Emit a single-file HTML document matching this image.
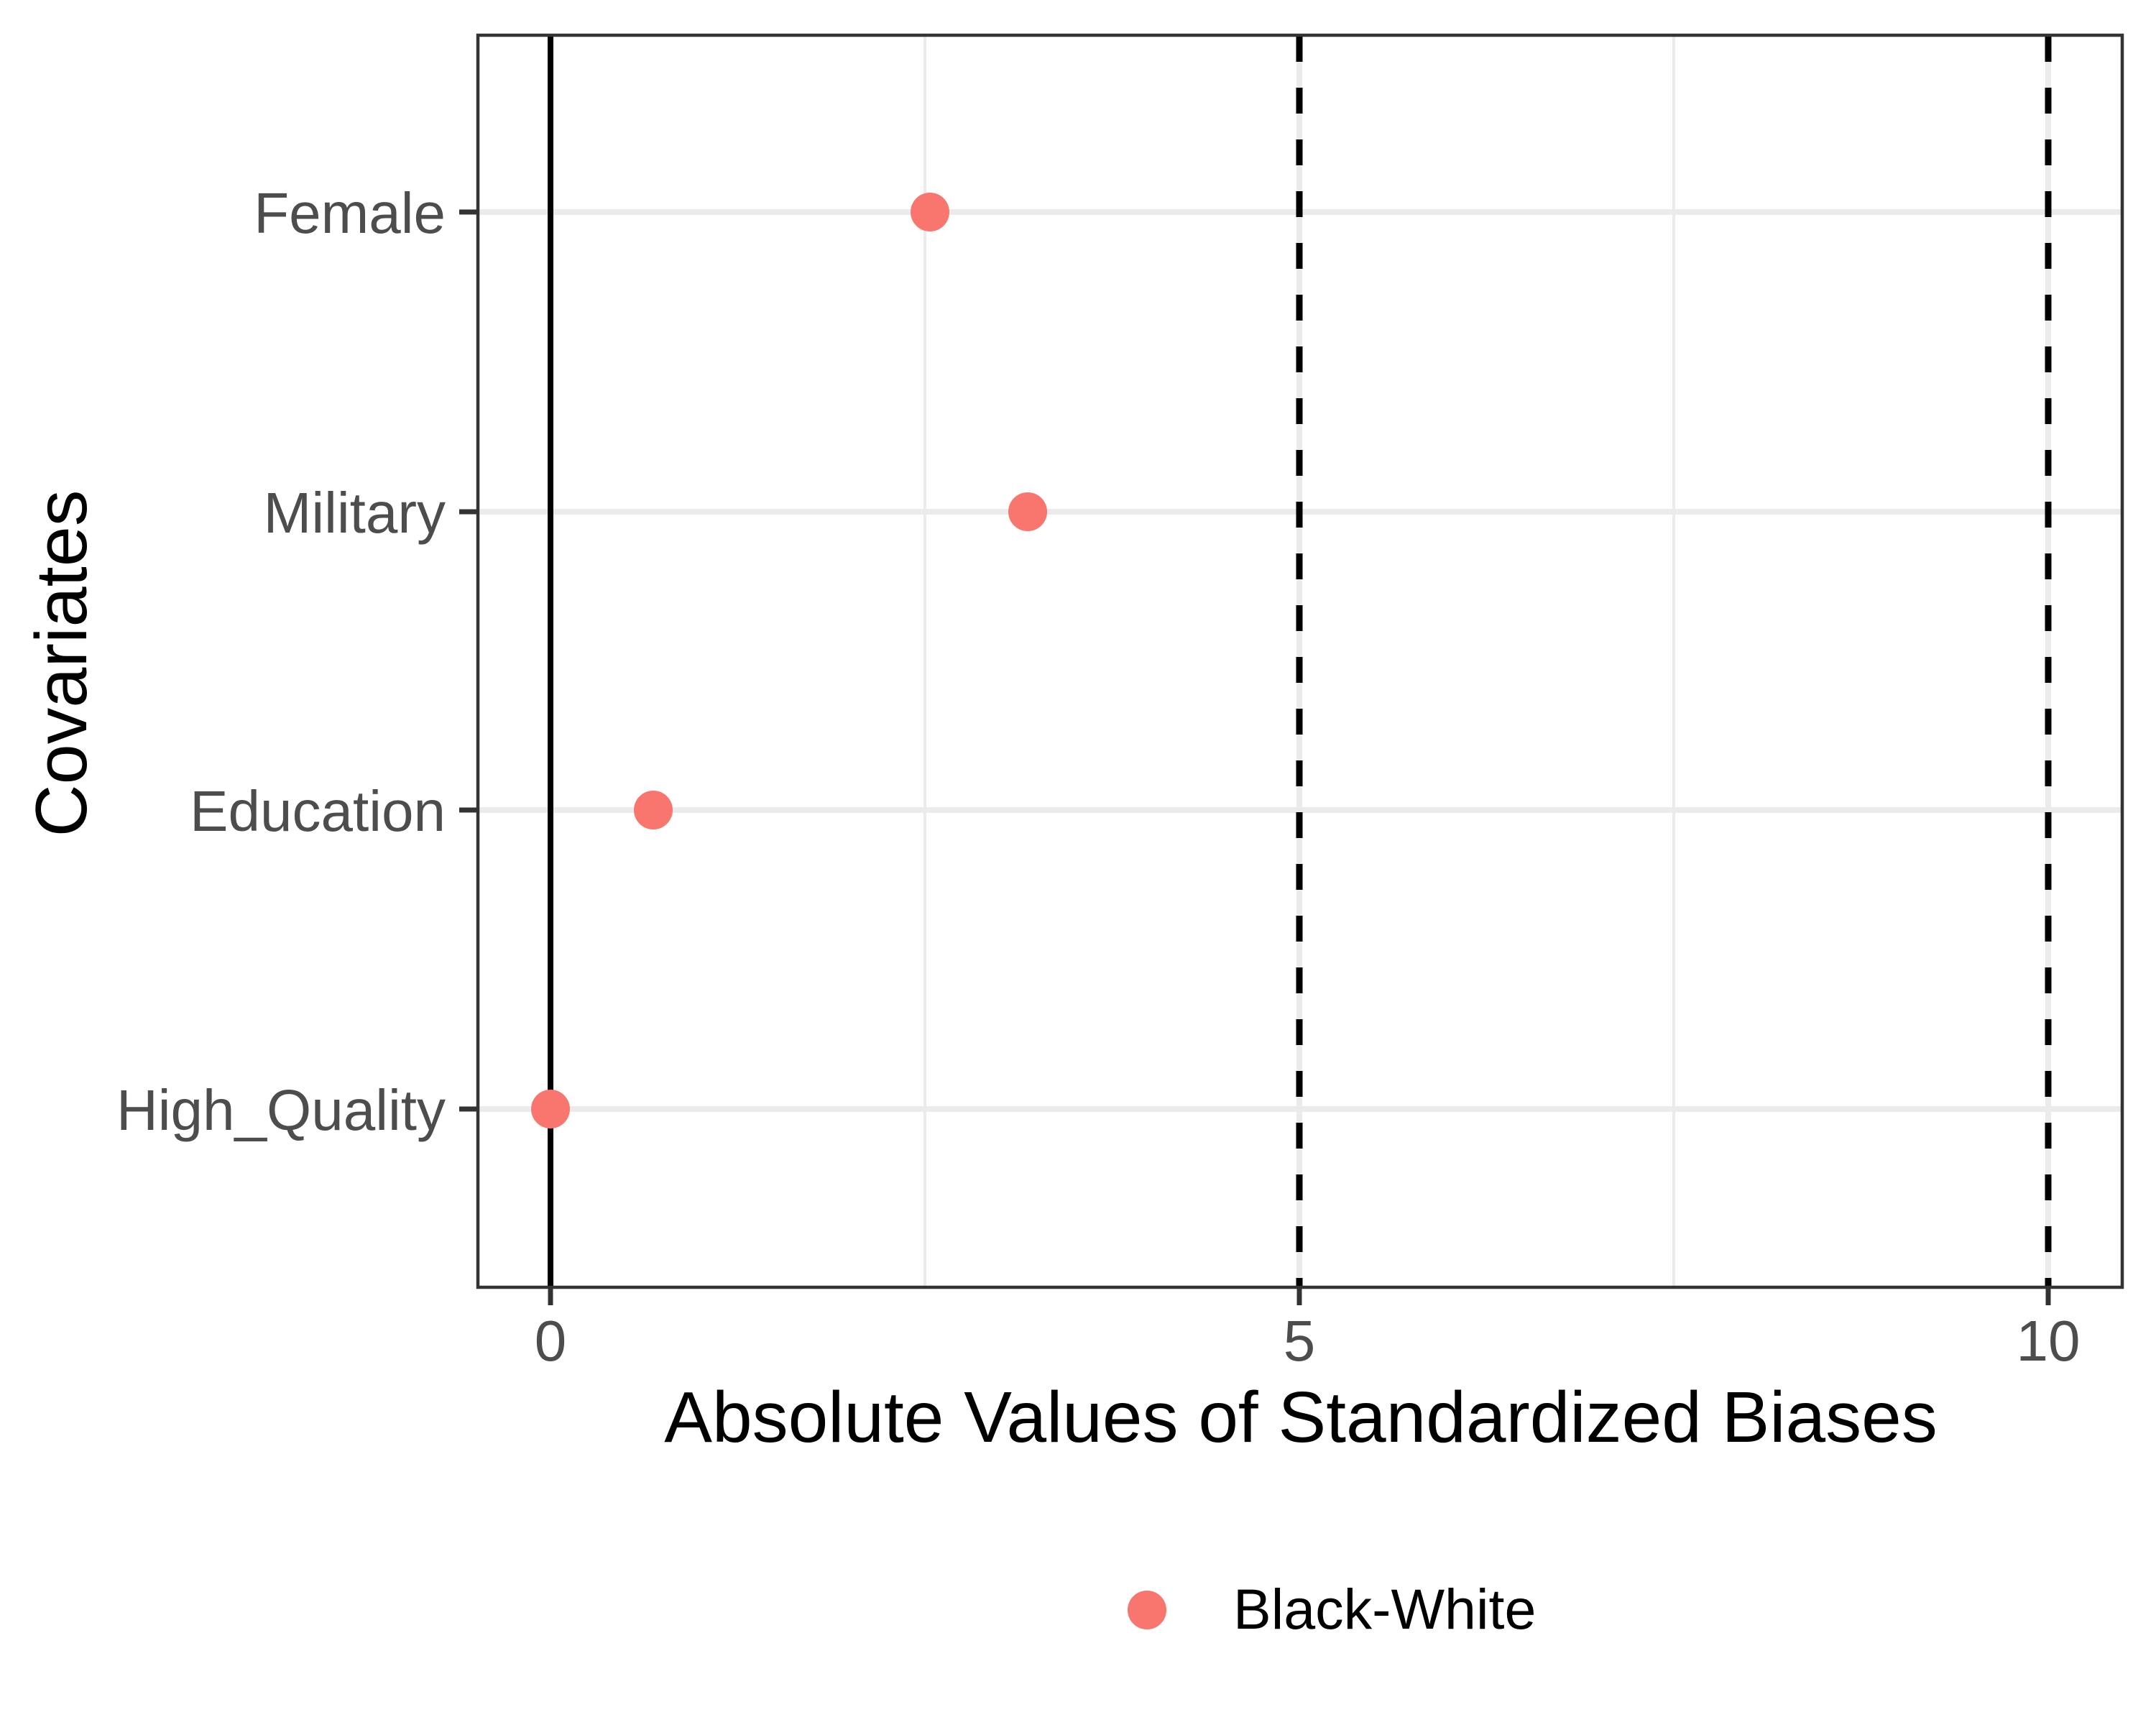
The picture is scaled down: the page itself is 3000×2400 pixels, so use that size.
<!DOCTYPE html>
<html><head><meta charset="utf-8"><style>
html,body{margin:0;padding:0;background:#fff;}
svg{display:block;}
</style></head><body>
<svg width="3000" height="2400" viewBox="0 0 3000 2400" xmlns="http://www.w3.org/2000/svg" font-family="Liberation Sans, Arial, sans-serif">
<rect width="3000" height="2400" fill="#fff"/>
<g stroke="#ebebeb" stroke-width="4">
<line x1="1287" y1="48" x2="1287" y2="1792"/>
<line x1="2329" y1="48" x2="2329" y2="1792"/>
</g>
<g stroke="#ebebeb" stroke-width="8">
<line x1="766" y1="48" x2="766" y2="1792"/>
<line x1="1808" y1="48" x2="1808" y2="1792"/>
<line x1="2850" y1="48" x2="2850" y2="1792"/>
<line x1="663" y1="295" x2="2953" y2="295"/>
<line x1="663" y1="712" x2="2953" y2="712"/>
<line x1="663" y1="1127" x2="2953" y2="1127"/>
<line x1="663" y1="1543" x2="2953" y2="1543"/>
</g>
<line x1="766" y1="48" x2="766" y2="1792" stroke="#000" stroke-width="8"/>
<g stroke="#000" stroke-width="9" stroke-dasharray="36,36">
<line x1="1808" y1="50" x2="1808" y2="1792"/>
<line x1="2850" y1="50" x2="2850" y2="1792"/>
</g>
<g fill="#F8766D">
<circle cx="1294" cy="295" r="27"/>
<circle cx="1430" cy="712" r="27"/>
<circle cx="909" cy="1127" r="27"/>
<circle cx="766" cy="1543" r="27"/>
</g>
<rect x="665" y="49" width="2288" height="1742" fill="none" stroke="#333" stroke-width="4.5"/>
<g stroke="#333" stroke-width="7">
<line x1="639" y1="295" x2="663" y2="295"/>
<line x1="639" y1="712" x2="663" y2="712"/>
<line x1="639" y1="1127" x2="663" y2="1127"/>
<line x1="639" y1="1543" x2="663" y2="1543"/>
<line x1="766" y1="1792" x2="766" y2="1816"/>
<line x1="1808" y1="1792" x2="1808" y2="1816"/>
<line x1="2850" y1="1792" x2="2850" y2="1816"/>
</g>
<g fill="#4d4d4d" font-size="80" text-anchor="end">
<text x="620" y="324">Female</text>
<text x="620" y="741">Military</text>
<text x="620" y="1156">Education</text>
<text x="620" y="1572">High_Quality</text>
</g>
<g fill="#4d4d4d" font-size="80" text-anchor="middle">
<text x="766" y="1893">0</text>
<text x="1808" y="1893">5</text>
<text x="2850" y="1893">10</text>
</g>
<text x="1810" y="2006" font-size="100" text-anchor="middle" fill="#000">Absolute Values of Standardized Biases</text>
<text transform="translate(120,923) rotate(-90)" font-size="101" text-anchor="middle" fill="#000">Covariates</text>
<circle cx="1596" cy="2240" r="27" fill="#F8766D"/>
<text x="1716" y="2266" font-size="79" fill="#000">Black-White</text>
</svg>
</body></html>
